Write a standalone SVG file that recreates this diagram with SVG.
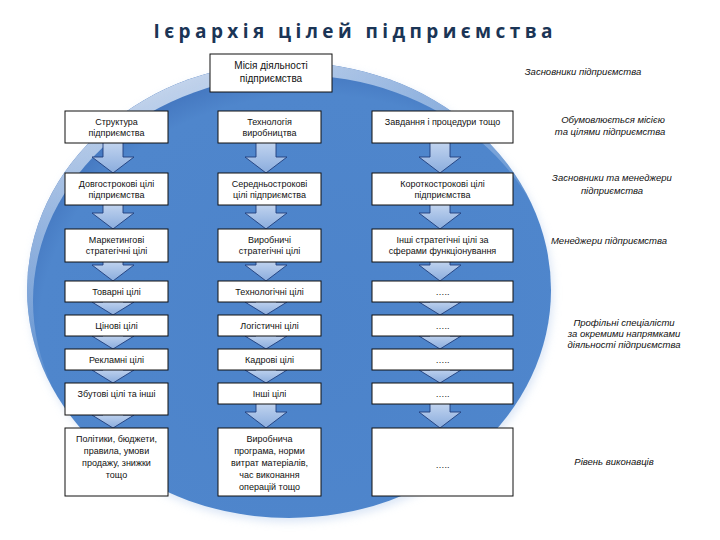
<svg xmlns="http://www.w3.org/2000/svg" width="720" height="540" viewBox="0 0 720 540">
<style>
.box{fill:#fff;stroke:#111;stroke-width:1}
.arr{fill:url(#ag);stroke:#1f3d7a;stroke-width:0.9;stroke-linejoin:miter}
.t{font-family:"Liberation Sans",Arial,sans-serif;font-size:9px;fill:#111;text-anchor:middle}
.m{font-family:"Liberation Sans",Arial,sans-serif;font-size:10px;fill:#111;text-anchor:middle}
.lbl{font-family:"Liberation Sans",Arial,sans-serif;font-size:9.5px;font-style:italic;fill:#111;text-anchor:middle}
.title{font-family:"Open Sans","Liberation Sans",sans-serif;font-size:19px;font-weight:700;fill:#1b3556;text-anchor:middle}
</style>
<defs>
<linearGradient id="ag" x1="0" y1="0" x2="0" y2="1"><stop offset="0" stop-color="#c4d6f0"/><stop offset="1" stop-color="#8aacdd"/></linearGradient>
<radialGradient id="eg" cx="0.55" cy="0.6" r="0.6"><stop offset="0" stop-color="#4c83ca"/><stop offset="0.88" stop-color="#4f86cc"/><stop offset="1" stop-color="#4274bd"/></radialGradient>
<linearGradient id="rimg" x1="0.1" y1="0" x2="0.35" y2="0.6"><stop offset="0" stop-color="#ffffff" stop-opacity="0.85"/><stop offset="0.5" stop-color="#cfe0f5" stop-opacity="0.55"/><stop offset="1" stop-color="#ffffff" stop-opacity="0"/></linearGradient>
<mask id="rim"><ellipse cx="289" cy="290" rx="262" ry="228" fill="#fff"/><ellipse cx="295" cy="301" rx="262" ry="226" fill="#000"/></mask>
<filter id="blur" x="-20%" y="-20%" width="140%" height="140%"><feGaussianBlur stdDeviation="4"/></filter>
</defs>
<rect width="720" height="540" fill="#fff"/>
<text class="title" x="353" y="38" textLength="399" lengthAdjust="spacing">Ієрархія цілей підприємства</text>
<g id="background">
<ellipse cx="291" cy="294" rx="262" ry="228" fill="#c3d6f0" opacity="0.6" filter="url(#blur)"/>
<ellipse cx="289" cy="290" rx="262" ry="228" fill="url(#eg)"/>
<ellipse cx="289" cy="290" rx="262" ry="228" fill="url(#rimg)" mask="url(#rim)"/>
</g>
<g id="connectors">
<path class="arr" d="M103,141H123V157H134L113,173L92,157H103Z"/>
<path class="arr" d="M103,203H123V213H134L113,229L92,213H103Z"/>
<path class="arr" d="M103,260H123V265H134L113,281L92,265H103Z"/>
<path class="arr" d="M103,300H123V302H134L113,315L92,302H103Z"/>
<path class="arr" d="M103,334H123V336H134L113,349L92,336H103Z"/>
<path class="arr" d="M103,368H123V370H134L113,383L92,370H103Z"/>
<path class="arr" d="M103,413H123V415H134L113,428L92,415H103Z"/>
<path class="arr" d="M256,141H276V157H287L266,173L245,157H256Z"/>
<path class="arr" d="M256,203H276V213H287L266,229L245,213H256Z"/>
<path class="arr" d="M256,260H276V265H287L266,281L245,265H256Z"/>
<path class="arr" d="M256,300H276V302H287L266,315L245,302H256Z"/>
<path class="arr" d="M256,334H276V336H287L266,349L245,336H256Z"/>
<path class="arr" d="M256,368H276V370H287L266,383L245,370H256Z"/>
<path class="arr" d="M256,402H276V412H287L266,428L245,412H256Z"/>
<path class="arr" d="M430,141H450V157H461L440,173L419,157H430Z"/>
<path class="arr" d="M430,203H450V213H461L440,229L419,213H430Z"/>
<path class="arr" d="M430,260H450V265H461L440,281L419,265H430Z"/>
<path class="arr" d="M430,300H450V302H461L440,315L419,302H430Z"/>
<path class="arr" d="M430,334H450V336H461L440,349L419,336H430Z"/>
<path class="arr" d="M430,368H450V370H461L440,383L419,370H430Z"/>
<path class="arr" d="M430,402H450V412H461L440,428L419,412H430Z"/>
</g>
<g id="mission"><rect class="box" x="210" y="54" width="122" height="38"/><text class="m" x="271" y="69">Місія діяльності</text><text class="m" x="271" y="82">підприємства</text></g>

<g id="c1r1"><rect class="box" x="65" y="111" width="103" height="32"/><text class="t" x="116.5" y="124.5">Структура</text><text class="t" x="116.5" y="135.5">підприємства</text></g>
<g id="c1r2"><rect class="box" x="65" y="173" width="103" height="32"/><text class="t" x="116.5" y="186.5">Довгострокові цілі</text><text class="t" x="116.5" y="197.5">підприємства</text></g>
<g id="c1r3"><rect class="box" x="65" y="229" width="103" height="33"/><text class="t" x="116.5" y="243">Маркетингові</text><text class="t" x="116.5" y="254">стратегічні цілі</text></g>
<g id="c1r4"><rect class="box" x="65" y="281" width="103" height="21"/><text class="t" x="116.5" y="294.5">Товарні цілі</text></g>
<g id="c1r5"><rect class="box" x="65" y="315" width="103" height="21"/><text class="t" x="116.5" y="328.5">Цінові цілі</text></g>
<g id="c1r6"><rect class="box" x="65" y="349" width="103" height="21"/><text class="t" x="116.5" y="362.5">Рекламні цілі</text></g>
<g id="c1r7"><rect class="box" x="65" y="383" width="103" height="32"/><text class="t" x="116.5" y="396.5">Збутові цілі та інші</text></g>
<g id="c1r8"><rect class="box" x="65" y="428" width="103" height="68"/><text class="t" x="116.5" y="442">Політики, бюджети,</text><text class="t" x="116.5" y="454">правила, умови</text><text class="t" x="116.5" y="466">продажу, знижки</text><text class="t" x="116.5" y="477.5">тощо</text></g>

<g id="c2r1"><rect class="box" x="218" y="111" width="103" height="32"/><text class="t" x="269.5" y="124.5">Технологія</text><text class="t" x="269.5" y="135.5">виробництва</text></g>
<g id="c2r2"><rect class="box" x="218" y="173" width="103" height="32"/><text class="t" x="269.5" y="186.5">Середньострокові</text><text class="t" x="269.5" y="197.5">цілі підприємства</text></g>
<g id="c2r3"><rect class="box" x="218" y="229" width="103" height="33"/><text class="t" x="269.5" y="243">Виробничі</text><text class="t" x="269.5" y="254">стратегічні цілі</text></g>
<g id="c2r4"><rect class="box" x="218" y="281" width="103" height="21"/><text class="t" x="269.5" y="294.5">Технологічні цілі</text></g>
<g id="c2r5"><rect class="box" x="218" y="315" width="103" height="21"/><text class="t" x="269.5" y="328.5">Логістичні цілі</text></g>
<g id="c2r6"><rect class="box" x="218" y="349" width="103" height="21"/><text class="t" x="269.5" y="362.5">Кадрові цілі</text></g>
<g id="c2r7"><rect class="box" x="218" y="383" width="103" height="21"/><text class="t" x="269.5" y="396.5">Інші цілі</text></g>
<g id="c2r8"><rect class="box" x="218" y="428" width="103" height="68"/><text class="t" x="269.5" y="442">Виробнича</text><text class="t" x="269.5" y="454">програма, норми</text><text class="t" x="269.5" y="466">витрат матеріалів,</text><text class="t" x="269.5" y="477.5">час виконання</text><text class="t" x="269.5" y="489.5">операцій тощо</text></g>

<g id="c3r1"><rect class="box" x="372" y="111" width="141" height="32"/><text class="t" x="442.5" y="124.5">Завдання і процедури тощо</text></g>
<g id="c3r2"><rect class="box" x="372" y="173" width="141" height="32"/><text class="t" x="442.5" y="186.5">Короткострокові цілі</text><text class="t" x="442.5" y="197.5">підприємства</text></g>
<g id="c3r3"><rect class="box" x="372" y="229" width="141" height="33"/><text class="t" x="442.5" y="243">Інші стратегічні цілі за</text><text class="t" x="442.5" y="254">сферами функціонування</text></g>
<g id="c3r4"><rect class="box" x="372" y="281" width="141" height="21"/><text class="t" x="442.5" y="294.5">…..</text></g>
<g id="c3r5"><rect class="box" x="372" y="315" width="141" height="21"/><text class="t" x="442.5" y="328.5">…..</text></g>
<g id="c3r6"><rect class="box" x="372" y="349" width="141" height="21"/><text class="t" x="442.5" y="363">…..</text></g>
<g id="c3r7"><rect class="box" x="372" y="383" width="141" height="21"/><text class="t" x="442.5" y="397">…..</text></g>
<g id="c3r8"><rect class="box" x="372" y="428" width="141" height="68"/><text class="t" x="442.5" y="468">…..</text></g>

<g id="labels">
<text class="lbl" x="583" y="75">Засновники підприємства</text>
<text class="lbl" x="613" y="123">Обумовлюється місією</text>
<text class="lbl" x="610" y="135">та цілями підприємства</text>
<text class="lbl" x="612" y="181">Засновники та менеджери</text>
<text class="lbl" x="612" y="194">підприємства</text>
<text class="lbl" x="609" y="244">Менеджери підприємства</text>
<text class="lbl" x="624" y="326">Профільні спеціалісти</text>
<text class="lbl" x="624" y="337">за окремими напрямками</text>
<text class="lbl" x="624" y="348">діяльності підприємства</text>
<text class="lbl" x="614" y="465">Рівень виконавців</text>
</g>
</svg>
